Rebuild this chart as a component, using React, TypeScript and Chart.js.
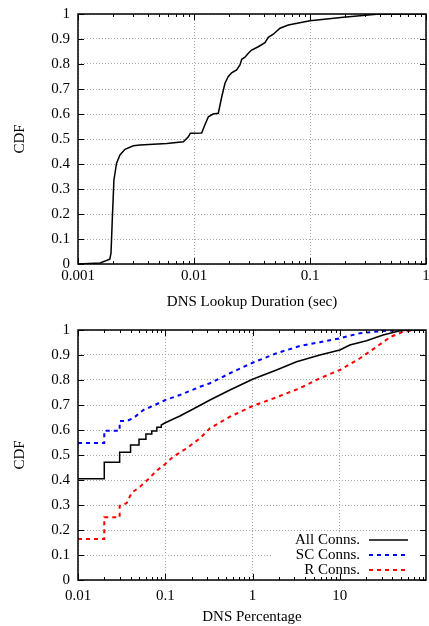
import React, { useEffect, useRef } from 'react';
import { Chart, registerables } from 'chart.js';

Chart.register(...registerables);

const FONT = '"Liberation Serif", "Times New Roman", Times, serif';

// ---------- Top chart: DNS lookup duration CDF ----------
const TOP_X = [0.001, 0.00155, 0.00188, 0.001925, 0.00198, 0.00204, 0.00215, 0.0023, 0.00254, 0.003, 0.00342, 0.00582, 0.0081, 0.00894, 0.0093, 0.01164, 0.0124, 0.0133, 0.0146, 0.0162, 0.01735, 0.0185, 0.0197, 0.0211, 0.0233, 0.0249, 0.0258, 0.0275, 0.0294, 0.0314, 0.0358, 0.0409, 0.0437, 0.0483, 0.0551, 0.065, 0.1, 0.1936, 0.376, 1];
const TOP_Y = [0, 0.004, 0.019, 0.043, 0.19, 0.336, 0.403, 0.436, 0.459, 0.473, 0.476, 0.482, 0.489, 0.509, 0.523, 0.524, 0.556, 0.589, 0.6, 0.603, 0.669, 0.723, 0.749, 0.765, 0.776, 0.796, 0.819, 0.827, 0.843, 0.856, 0.869, 0.885, 0.907, 0.919, 0.943, 0.956, 0.973, 0.987, 0.999, 1];
const TOP_X_TICKS = [0.001, 0.01, 0.1, 1];
const TOP_X_TITLE = 'DNS Lookup Duration (sec)';

// ---------- Bottom chart: DNS percentage CDF ----------
const ALL_X = [0.01, 0.02, 0.02, 0.03, 0.03, 0.04, 0.04, 0.05, 0.05, 0.06, 0.06, 0.07, 0.07, 0.08, 0.08, 0.09, 0.09, 0.1, 0.147, 0.209, 0.325, 0.55, 1.0, 1.88, 3.19, 5.9, 10, 13, 20.2, 31.3, 48.6, 63, 97];
const ALL_Y = [0.405, 0.405, 0.471, 0.471, 0.511, 0.511, 0.54, 0.54, 0.563, 0.563, 0.584, 0.584, 0.596, 0.596, 0.611, 0.611, 0.62, 0.629, 0.656, 0.684, 0.72, 0.76, 0.803, 0.84, 0.873, 0.9, 0.92, 0.94, 0.957, 0.98, 0.997, 1, 1];
const SC_X = [0.01, 0.02, 0.02, 0.03, 0.03, 0.036, 0.043, 0.056, 0.073, 0.1, 0.147, 0.25, 0.325, 0.55, 1.0, 1.88, 3.48, 5.9, 10, 17, 31, 53, 97];
const SC_Y = [0.548, 0.548, 0.597, 0.597, 0.636, 0.636, 0.647, 0.68, 0.697, 0.72, 0.74, 0.773, 0.787, 0.827, 0.869, 0.907, 0.936, 0.951, 0.967, 0.987, 0.996, 1, 1];
const R_X = [0.01, 0.02, 0.02, 0.03, 0.03, 0.036, 0.0412, 0.0513, 0.0638, 0.0795, 0.1, 0.123, 0.176, 0.25, 0.325, 0.55, 1.0, 1.88, 3.48, 5.9, 10, 17, 26.4, 37.4, 53, 75.5, 97];
const R_Y = [0.164, 0.164, 0.251, 0.251, 0.297, 0.307, 0.349, 0.373, 0.403, 0.437, 0.464, 0.493, 0.527, 0.567, 0.607, 0.653, 0.696, 0.731, 0.767, 0.807, 0.84, 0.887, 0.933, 0.971, 0.993, 1, 1];
const BOTTOM_X_TICKS = [0.01, 0.1, 1, 10];
const BOTTOM_X_TITLE = 'DNS Percentage';
const SERIES_LABELS = ['All Conns.', 'SC Conns.', 'R Conns.'];

const Y_TICKS = [0, 0.1, 0.2, 0.3, 0.4, 0.5, 0.6, 0.7, 0.8, 0.9, 1];
const Y_TITLE = 'CDF';

function pts(xs: number[], ys: number[]) {
  return xs.map((x, i) => ({ x, y: ys[i] }));
}

const gnuplotFrame = {
  id: 'gnuplotFrame',
  afterDatasetsDraw(chart: any, _args: any, opts: any) {
    const { ctx, chartArea: a, scales } = chart;
    const xs = scales.x;
    const ys = scales.y;
    ctx.save();

    // opaque key box + key entries
    if (opts && opts.legend) {
      ctx.fillStyle = '#ffffff';
      ctx.fillRect(a.right - 153, a.bottom - 48, 153, 48);
      ctx.font = `15px ${FONT}`;
      ctx.textAlign = 'right';
      ctx.textBaseline = 'middle';
      chart.data.datasets.forEach((ds: any, i: number) => {
        const y = a.bottom - 40 + i * 15;
        ctx.fillStyle = '#000';
        ctx.fillText(ds.label, a.right - 66, y + 0.5);
        ctx.save();
        ctx.strokeStyle = ds.borderColor;
        ctx.lineWidth = ds.borderWidth;
        ctx.setLineDash(ds.borderDash || []);
        ctx.beginPath();
        ctx.moveTo(a.right - 57, y);
        ctx.lineTo(a.right - 18, y);
        ctx.stroke();
        ctx.restore();
      });
    }

    // tick marks (inward, mirrored)
    ctx.strokeStyle = '#000';
    ctx.lineWidth = 1;
    ctx.setLineDash([]);
    const e0 = Math.floor(Math.log10(xs.min) + 1e-9);
    const e1 = Math.ceil(Math.log10(xs.max) - 1e-9);
    ctx.beginPath();
    for (let e = e0; e <= e1; e++) {
      for (let k = 1; k <= 9; k++) {
        const v = k * Math.pow(10, e);
        if (v < xs.min * (1 - 1e-9) || v > xs.max * (1 + 1e-9)) continue;
        const px = Math.round(xs.getPixelForValue(v)) + 0.5;
        const len = k === 1 ? 6 : 3;
        ctx.moveTo(px, a.bottom);
        ctx.lineTo(px, a.bottom - len);
        ctx.moveTo(px, a.top);
        ctx.lineTo(px, a.top + len);
      }
    }
    ys.ticks.forEach((t: any) => {
      const py = Math.round(ys.getPixelForValue(t.value)) + 0.5;
      ctx.moveTo(a.left, py);
      ctx.lineTo(a.left + 6, py);
      ctx.moveTo(a.right, py);
      ctx.lineTo(a.right - 6, py);
    });
    ctx.stroke();

    // border
    ctx.lineWidth = 1.5;
    ctx.strokeRect(a.left, a.top, a.right - a.left, a.bottom - a.top);
    ctx.restore();
  },
};

function makeOptions(
  xMin: number,
  xMax: number,
  xTicks: number[],
  xTitle: string,
  padTop: number,
  xTickPad: number,
  xTitlePadBottom: number,
  legend: boolean
) {
  const gridCommon = { color: '#a8a8a8', lineWidth: 1, drawTicks: false };
  return {
    responsive: false,
    maintainAspectRatio: false,
    animation: false,
    devicePixelRatio: 1,
    layout: { padding: { top: padTop, right: 3, left: 0, bottom: 0 } },
    plugins: {
      legend: { display: false },
      tooltip: { enabled: false },
      gnuplotFrame: { legend },
    },
    scales: {
      x: {
        type: 'logarithmic',
        min: xMin,
        max: xMax,
        afterBuildTicks: (s: any) => {
          s.ticks = xTicks.map((v) => ({ value: v, major: true }));
        },
        afterFit: (s: any) => {
          s.height = 46;
          s.paddingLeft = 0;
          s.paddingRight = 0;
        },
        grid: gridCommon,
        border: { display: false, dash: [1, 2] },
        ticks: {
          autoSkip: false,
          maxRotation: 0,
          minRotation: 0,
          padding: xTickPad,
          color: '#000',
          font: { family: FONT, size: 15 },
          callback: (v: any) => String(Number(v)),
        },
        title: {
          display: true,
          text: xTitle,
          color: '#000',
          font: { family: FONT, size: 15, lineHeight: 1 },
          padding: { top: 0, bottom: xTitlePadBottom },
        },
      },
      y: {
        type: 'linear',
        min: 0,
        max: 1,
        afterBuildTicks: (s: any) => {
          s.ticks = Y_TICKS.map((v) => ({ value: v }));
        },
        afterFit: (s: any) => {
          s.width = 78;
          s.paddingTop = 0;
          s.paddingBottom = 0;
        },
        grid: gridCommon,
        border: { display: false, dash: [1, 2] },
        ticks: {
          autoSkip: false,
          padding: 8,
          color: '#000',
          font: { family: FONT, size: 15 },
          callback: (v: any) => String(Number(v)),
        },
        title: {
          display: true,
          text: Y_TITLE,
          color: '#000',
          font: { family: FONT, size: 15, lineHeight: 1 },
          padding: { top: 12.5, bottom: 0 },
        },
      },
    },
  };
}

export default function App() {
  const topRef = useRef<HTMLCanvasElement | null>(null);
  const botRef = useRef<HTMLCanvasElement | null>(null);

  useEffect(() => {
    const top = new Chart(topRef.current as HTMLCanvasElement, {
      type: 'line',
      data: {
        datasets: [
          {
            label: 'DNS Lookup',
            data: pts(TOP_X, TOP_Y),
            borderColor: '#000000',
            borderWidth: 1.5,
            pointRadius: 0,
            fill: false,
            tension: 0,
          },
        ],
      },
      options: makeOptions(0.001, 1, TOP_X_TICKS, TOP_X_TITLE, 14, 3, 0, false) as any,
      plugins: [gnuplotFrame],
    });

    const bottom = new Chart(botRef.current as HTMLCanvasElement, {
      type: 'line',
      data: {
        datasets: [
          {
            label: SERIES_LABELS[0],
            data: pts(ALL_X, ALL_Y),
            borderColor: '#000000',
            borderWidth: 1.5,
            pointRadius: 0,
            fill: false,
            tension: 0,
          },
          {
            label: SERIES_LABELS[1],
            data: pts(SC_X, SC_Y),
            borderColor: '#0000ff',
            borderWidth: 2,
            borderDash: [4, 4],
            pointRadius: 0,
            fill: false,
            tension: 0,
          },
          {
            label: SERIES_LABELS[2],
            data: pts(R_X, R_Y),
            borderColor: '#ff0000',
            borderWidth: 2,
            borderDash: [4, 4],
            pointRadius: 0,
            fill: false,
            tension: 0,
          },
        ],
      },
      options: makeOptions(0.01, 97, BOTTOM_X_TICKS, BOTTOM_X_TITLE, 20, 7, 1.5, true) as any,
      plugins: [gnuplotFrame],
    });

    return () => {
      top.destroy();
      bottom.destroy();
    };
  }, []);

  return (
    <div style={{ position: 'absolute', left: 0, top: 0, width: 429, height: 626, background: '#ffffff' }}>
      <canvas ref={topRef} width={429} height={310} style={{ position: 'absolute', left: 0, top: 0 }} />
      <canvas ref={botRef} width={429} height={316} style={{ position: 'absolute', left: 0, top: 310 }} />
    </div>
  );
}
